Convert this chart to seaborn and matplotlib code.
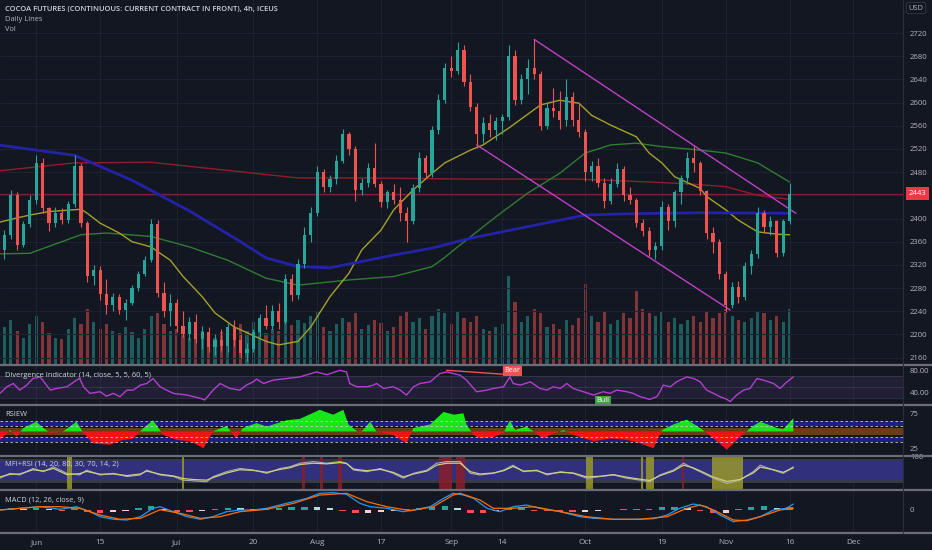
import numpy as np
import matplotlib
matplotlib.use("Agg")
import matplotlib.pyplot as plt
import seaborn as sns
from matplotlib.lines import Line2D

# ---------------- data (one bar per trading day) ----------------
opens = [2380, 2345, 2372, 2440, 2355, 2390, 2432, 2495, 2418, 2392,
         2410, 2398, 2425, 2490, 2392, 2300, 2312, 2270, 2250, 2265,
         2242, 2255, 2280, 2305, 2328, 2390, 2272, 2240, 2255, 2215,
         2200, 2222, 2192, 2205, 2178, 2190, 2180, 2212, 2190, 2168,
         2175, 2205, 2228, 2215, 2240, 2222, 2295, 2268, 2322, 2372,
         2410, 2480, 2455, 2468, 2500, 2545, 2520, 2450, 2462, 2488,
         2460, 2428, 2445, 2432, 2410, 2395, 2452, 2505, 2478, 2552,
         2605, 2660, 2655, 2690, 2635, 2592, 2545, 2565, 2552, 2568,
         2575, 2680, 2605, 2640, 2660, 2650, 2560, 2590, 2585, 2570,
         2610, 2570, 2550, 2480, 2490, 2462, 2430, 2460, 2485, 2440,
         2432, 2392, 2378, 2345, 2352, 2420, 2395, 2445, 2470, 2505,
         2495, 2448, 2375, 2360, 2305, 2250, 2282, 2265, 2318, 2338,
         2410, 2385, 2395, 2340, 2395]
highs = [2395, 2380, 2450, 2445, 2395, 2440, 2510, 2505, 2420, 2420,
         2418, 2430, 2510, 2495, 2395, 2320, 2318, 2295, 2272, 2270,
         2262, 2285, 2310, 2335, 2400, 2398, 2290, 2270, 2262, 2240,
         2230, 2235, 2215, 2212, 2200, 2210, 2220, 2225, 2200, 2185,
         2210, 2235, 2250, 2250, 2255, 2305, 2305, 2330, 2385, 2420,
         2490, 2485, 2475, 2510, 2555, 2550, 2525, 2470, 2495, 2530,
         2465, 2450, 2460, 2455, 2420, 2460, 2515, 2510, 2560, 2615,
         2668, 2680, 2705, 2700, 2650, 2600, 2575, 2580, 2575, 2580,
         2700, 2690, 2650, 2675, 2710, 2655, 2600, 2625, 2620, 2640,
         2618, 2600, 2555, 2500, 2505, 2470, 2470, 2495, 2490, 2455,
         2435, 2400, 2385, 2360, 2430, 2425, 2450, 2475, 2515, 2525,
         2500, 2450, 2385, 2365, 2310, 2290, 2292, 2325, 2345, 2420,
         2415, 2405, 2398, 2400, 2462]
lows = [2335, 2330, 2365, 2345, 2350, 2385, 2425, 2410, 2378, 2385,
        2390, 2392, 2420, 2385, 2290, 2285, 2260, 2235, 2240, 2235,
        2225, 2250, 2275, 2300, 2325, 2265, 2230, 2215, 2205, 2195,
        2190, 2185, 2175, 2170, 2165, 2172, 2170, 2180, 2160, 2155,
        2170, 2195, 2210, 2210, 2210, 2218, 2258, 2262, 2315, 2360,
        2405, 2445, 2445, 2460, 2495, 2510, 2430, 2440, 2455, 2455,
        2420, 2418, 2425, 2395, 2360, 2390, 2445, 2470, 2472, 2545,
        2600, 2645, 2650, 2628, 2585, 2522, 2530, 2540, 2535, 2545,
        2570, 2595, 2598, 2615, 2640, 2552, 2555, 2575, 2555, 2560,
        2560, 2540, 2465, 2465, 2455, 2418, 2425, 2455, 2430, 2425,
        2385, 2370, 2335, 2330, 2345, 2380, 2385, 2425, 2460, 2480,
        2440, 2365, 2340, 2295, 2238, 2245, 2255, 2260, 2305, 2332,
        2375, 2372, 2333, 2335, 2390]
closes = [2345, 2372, 2440, 2355, 2390, 2432, 2495, 2418, 2392, 2410,
          2398, 2425, 2490, 2392, 2300, 2312, 2270, 2250, 2265, 2242,
          2255, 2280, 2305, 2328, 2390, 2272, 2240, 2255, 2215, 2200,
          2222, 2192, 2205, 2178, 2190, 2180, 2212, 2190, 2168, 2175,
          2205, 2228, 2215, 2240, 2222, 2295, 2268, 2322, 2372, 2410,
          2480, 2455, 2468, 2500, 2545, 2520, 2450, 2462, 2488, 2460,
          2428, 2445, 2432, 2410, 2395, 2452, 2505, 2478, 2552, 2605,
          2660, 2655, 2690, 2635, 2592, 2545, 2565, 2552, 2568, 2575,
          2680, 2605, 2640, 2660, 2650, 2560, 2590, 2585, 2570, 2610,
          2570, 2550, 2480, 2490, 2462, 2430, 2460, 2485, 2440, 2432,
          2392, 2378, 2345, 2352, 2420, 2395, 2445, 2470, 2505, 2495,
          2448, 2375, 2360, 2305, 2250, 2282, 2265, 2318, 2338, 2410,
          2385, 2395, 2340, 2395, 2443]
volumes = [35, 42, 50, 38, 30, 45, 55, 48, 35, 30,
           28, 40, 52, 45, 62, 48, 40, 45, 38, 35,
           42, 36, 30, 40, 55, 58, 45, 38, 40, 35,
           30, 42, 38, 33, 30, 36, 40, 34, 45, 38,
           48, 42, 35, 40, 38, 52, 44, 50, 46, 55,
           60, 42, 38, 45, 52, 48, 58, 40, 44, 50,
           46, 38, 42, 55, 60, 48, 52, 40, 55, 62,
           58, 45, 60, 52, 48, 55, 40, 38, 42, 45,
           100, 70, 48, 55, 62, 58, 42, 45, 40, 50,
           44, 52, 91, 55, 48, 60, 45, 50, 58, 52,
           83, 62, 58, 55, 60, 48, 52, 45, 50, 55,
           48, 60, 52, 58, 62, 55, 50, 48, 52, 60,
           58, 50, 55, 48, 62]
last_price = 2443

# moving averages ("Daily Lines")
blue_days = [0, 12, 21, 30, 38, 42, 47, 52, 57, 62, 68, 74, 83, 92, 98, 110, 124]
blue_vals = [2527, 2509, 2466, 2413, 2360, 2332, 2317, 2315, 2326, 2337, 2349, 2366,
             2386, 2406, 2408, 2410, 2409]
red_days = [0, 12, 24, 36, 47, 57, 74, 91, 102, 108, 114, 119, 124]
red_vals = [2482, 2496, 2497, 2483, 2470, 2470, 2468, 2468, 2463, 2460, 2455, 2440, 2433]
green_days = [0, 5, 13, 17, 24, 30, 36, 42, 47, 55, 62, 68, 70, 72, 78, 83, 88, 92, 96,
              100, 104, 110, 114, 119, 124]
green_vals = [2339, 2340, 2372, 2375, 2369, 2351, 2328, 2297, 2285, 2294, 2300, 2317, 2333,
              2351, 2403, 2444, 2478, 2513, 2527, 2530, 2524, 2518, 2513, 2496, 2463]
yellow_days = [0, 3, 5, 8, 13, 14, 16, 19, 21, 24, 25, 27, 29, 32, 34, 37, 39, 42, 44, 47,
               49, 52, 55, 57, 60, 62, 65, 68, 70, 74, 76, 80, 85, 88, 91, 93, 96, 100,
               102, 104, 106, 110, 111, 114, 116, 119, 122, 124]
yellow_vals = [2393, 2401, 2406, 2412, 2416, 2409, 2392, 2375, 2360, 2351, 2343, 2328, 2300,
               2265, 2237, 2213, 2203, 2188, 2182, 2188, 2213, 2265, 2306, 2346, 2380, 2415,
               2449, 2478, 2496, 2518, 2527, 2556, 2596, 2604, 2599, 2578, 2561, 2541, 2513,
               2496, 2472, 2452, 2438, 2415, 2397, 2377, 2373, 2372]

# falling channel
chan_up_days = [84, 125]
chan_up_vals = [2709, 2409]
chan_lo_days = [75, 114.7]
chan_lo_vals = [2527, 2242]

# Divergence Indicator (RSI)
div_days = [0.3, 1.4, 2.4, 3.4, 4.5, 5.5, 6.6, 7.6, 8.2, 9.2,
            10.8, 12.3, 12.8, 13.4, 14.4, 16, 17, 18.1, 19.1, 20.2,
            21.2, 22.3, 23.3, 24.3, 25.4, 26.4, 27.5, 29.6, 31.7, 32.4,
            33.7, 34.8, 36.3, 37.9, 38.9, 40, 40.5, 41.6, 43.1, 45.2,
            47.3, 49.9, 51.5, 53.6, 54.6, 55.1, 56.2, 57.8, 58.8, 59.3,
            60.4, 61.9, 63, 64, 65.1, 66.1, 67.7, 69.2, 70.3, 72.4,
            73.4, 74.5, 75, 76.6, 77.6, 79.2, 80.2, 80.7, 81.8, 83.4,
            84.9, 86, 87, 88.1, 89.1, 90.1, 91.7, 93.3, 94.8, 95.9,
            96.9, 98.5, 99.5, 100.6, 102.1, 103.2, 103.7, 104.2, 105.3, 106.3,
            107.9, 109, 110, 111, 112.1, 113.1, 114.2, 114.7, 115.7, 116.8,
            117.8, 118.9, 119.9, 121.5, 122.5, 123.6, 124.6]
div_vals = [38, 50, 56, 44, 53, 65, 68, 53, 44, 47,
            50, 62, 65, 50, 38, 41, 33, 38, 32, 44,
            44, 53, 56, 65, 50, 44, 38, 35, 29, 26,
            44, 56, 47, 44, 53, 59, 64, 56, 62, 65,
            68, 77, 72, 80, 77, 56, 50, 50, 53, 56,
            47, 50, 44, 35, 50, 56, 59, 74, 77, 71,
            62, 47, 41, 44, 47, 50, 68, 56, 53, 59,
            47, 44, 50, 47, 56, 47, 41, 35, 41, 38,
            44, 41, 38, 32, 27, 32, 41, 53, 50, 59,
            68, 65, 59, 44, 38, 32, 27, 23, 35, 44,
            47, 65, 62, 56, 47, 59, 68]
bear_line_days = [70.3, 80.2]
bear_line_vals = [80, 72]
bear_pos = (80.6, 80)
bull_pos = (94.8, 24.5)

# RSIEW
rsiew_days = [0.3, 1.9, 2.9, 4, 6, 7.1, 8.2, 10.2, 12.3, 13.4,
              14.9, 17.5, 19.6, 21.2, 22.8, 24.3, 25.9, 28, 30.1, 32.2,
              33.7, 35.8, 37.3, 38.4, 40.5, 42.1, 45.2, 47.3, 50.4, 52.5,
              54.1, 54.9, 56.7, 58.3, 59.3, 61.9, 64, 65.1, 67.7, 69.8,
              71.4, 72.9, 73.4, 74.5, 75.5, 77.6, 79.2, 80.2, 81, 82.8,
              83.9, 85.4, 87, 88.6, 90.1, 93.3, 95.9, 98.5, 100.6, 102.7,
              104, 105.8, 107.9, 110, 112.1, 114.2, 116.2, 118.3, 119.4, 122,
              123, 124.6]
rsiew_vals = [38, 52, 43, 55, 64, 55, 48, 50, 64, 48,
              33, 31, 38, 40, 55, 66, 45, 38, 36, 26,
              50, 58, 40, 55, 62, 57, 66, 68, 81, 74,
              81, 60, 47, 64, 50, 45, 33, 55, 60, 78,
              74, 76, 60, 45, 40, 42, 48, 66, 52, 57,
              50, 40, 47, 52, 45, 36, 40, 38, 33, 26,
              52, 60, 67, 55, 40, 24, 42, 58, 64, 55,
              53, 69]

# MFI + RSI
mfi_days = [0.3, 1.9, 3.4, 5.5, 7.1, 8.7, 10.8, 12.8, 13.9, 16,
            18.1, 20.2, 22.3, 23.3, 25.4, 27.5, 29, 30.6, 32.7, 33.7,
            35.8, 37.9, 40, 42.1, 44.2, 45.7, 47.3, 49.4, 51.5, 53.6,
            54.6, 55.7, 57.8, 59.9, 61.9, 63.5, 65.1, 67.2, 68.7, 70.3,
            72.4, 74, 75.5, 77.6, 79.2, 80.7, 82.3, 84.4, 86, 88.1,
            90.1, 92.2, 94.3, 96.4, 98.5, 100.6, 102.1, 103.7, 105.8, 107.4,
            108.9, 110.5, 112.1, 114.2, 116.2, 118.3, 119.4, 121.5, 123, 124.6]
mfi_vals = [34, 49, 44, 64, 54, 69, 49, 44, 59, 44,
            49, 39, 44, 59, 44, 39, 28, 26, 23, 39,
            54, 64, 59, 49, 64, 69, 80, 85, 80, 85,
            80, 59, 54, 64, 49, 34, 49, 59, 80, 85,
            85, 49, 44, 49, 59, 74, 54, 59, 44, 54,
            49, 34, 39, 44, 34, 28, 23, 44, 59, 80,
            64, 49, 34, 18, 28, 54, 74, 59, 49, 69]
rsi_vals = [38, 46, 47, 60, 56, 64, 45, 48, 55, 46,
            47, 42, 47, 56, 46, 41, 33, 30, 28, 36,
            50, 60, 58, 52, 61, 66, 76, 80, 78, 82,
            79, 62, 57, 61, 52, 38, 47, 56, 74, 80,
            80, 54, 47, 50, 57, 70, 56, 57, 47, 52,
            50, 38, 40, 45, 37, 31, 27, 42, 56, 74,
            66, 52, 37, 24, 30, 50, 68, 60, 52, 66]
oversold_start = [10.8, 28.8, 92.1, 100.7, 101.5, 111.9]
oversold_end = [11.6, 29.2, 93.2, 101.1, 102.8, 116.7]
overbought_start = [47.6, 50.5, 53.2, 69.1, 71.7, 107.2]
overbought_end = [48.1, 50.9, 53.9, 71.1, 73.2, 107.45]

# MACD
macd_days = [0.3, 3.4, 6.6, 9.7, 12.3, 14.4, 16, 18.1, 20.2, 22.3,
             24.3, 25.4, 27.5, 29.6, 31.7, 33.7, 35.8, 37.9, 40, 42.1,
             45.2, 48.4, 50.4, 52.5, 54.6, 56.7, 58.3, 60.9, 63.5, 65.1,
             67.7, 69.8, 71.3, 72.9, 74.5, 76.6, 78.6, 80.7, 82.8, 84.9,
             88.1, 91.2, 93.3, 96.4, 99.5, 102.7, 104.8, 106.8, 108.9, 111,
             113.1, 115.2, 117.3, 119.4, 121.5, 123.5, 124.6]
macd_vals = [-0.3, 1.4, 3, 0.4, 3, -2, -7, -9.6, -10.3, -7,
             1.4, 3, -2, -7, -9.6, -7, -2, -0.3, -0.3, 1.4,
             6.4, 11.4, 16.4, 17, 15.4, 6.4, 3, 1.4, -2, -0.3,
             3, 11.4, 16.4, 14.7, 11.4, 1.4, -2, 3, 4.7, 1.4,
             -2, -7, -8.6, -9.6, -9.6, -9, -5.3, 1.4, 5.7, 3,
             -5.3, -12, -10.3, -7, -0.3, 1.4, 5.7]
signal_days = [0.3, 6.6, 9.7, 12.8, 16, 19.1, 22.3, 25.4, 28.5, 31.7,
               34.8, 37.9, 42.1, 46.3, 50.4, 54.6, 57.8, 60.9, 64.6, 68.2,
               71.3, 72.4, 75.5, 77.6, 80.7, 83.9, 88.1, 92.2, 96.4, 100.6,
               104.8, 107.9, 110, 112.1, 115.2, 117.3, 119.4, 122.5, 124.6]
signal_vals = [-0.3, 3, 3, 1.4, -5.3, -9.6, -8.6, 0, -3.6, -8.6,
               -7, -2, 0.4, 6.4, 14.7, 16.4, 8, 3, -1, 3,
               14.7, 16.4, 9.7, 1.4, 1.4, 3, -2, -7, -9.6, -9.6,
               -7, 1.4, 4.7, -0.3, -10.3, -11, -7, -0.3, 1.4]
hist_days = list(range(0, 125, 2))
hist_vals = [1, 1.5, 1, 2, 1, -1, 1.5, -2.5, -3, -2,
             -1, 1.5, 3.5, 1, -2, -2.5, -1.5, 1, 2, 1.5,
             0.5, 1, 2, 2.5, 3, 2.5, 1.5, -1, -3.5, -3,
             -2, -1.5, 0.5, 1.5, 3, 4, 2, -3, -3.5, -1,
             2, 2.5, -1, -1.5, -2, -2.5, -2, -1, -0.5, 0.5,
             0.5, 1, 2.5, 3, 2, -1.5, -3.5, -3, 1, 3,
             3.5, 2, 2.5]

# time axis
tick_days = [6, 16, 28, 40, 50, 60, 71, 79, 92, 104, 114, 124, 134]
tick_labels = ["Jun", "15", "Jul", "20", "Aug", "17", "Sep", "14", "Oct", "19", "Nov", "16", "Dec"]

# ---------------- style ----------------
bg = "#131722"
txt = "#b2b5be"
grid_c = "#1d2130"
up_c, dn_c = "#26a69a", "#ef5350"

sns.set_theme(style="dark", rc={"axes.facecolor": bg, "figure.facecolor": bg,
                                "axes.edgecolor": bg, "text.color": txt,
                                "xtick.color": txt, "ytick.color": txt})
plt.rcParams["font.family"] = ["Open Sans", "DejaVu Sans"]

W, H = 932, 550
fig = plt.figure(figsize=(W / 100, H / 100), dpi=100)
XLIM = (0.32, 141.77)
LBL = 5.4


def rect(top, bottom):
    return [0, 1 - bottom / H, 903 / W, (bottom - top) / H]


def style(ax, ylim, yticks, ylabels):
    ax.set_xlim(*XLIM)
    ax.set_ylim(*ylim)
    ax.set_xticks(tick_days)
    ax.set_xticklabels([])
    ax.grid(True, axis="x", color=grid_c, lw=0.8)
    ax.yaxis.tick_right()
    ax.set_yticks(yticks)
    ax.set_yticklabels(ylabels, fontsize=5.6, color=txt)
    ax.tick_params(length=0, pad=5)
    ax.set_xlabel("")
    ax.set_ylabel("")
    for s in ax.spines.values():
        s.set_visible(False)


def px_text(x, y, s, **kw):
    fig.text(x / W, 1 - y / H, s, va="center", ha="left", **kw)


x = np.arange(len(closes))
o, h, l, c = map(np.array, (opens, highs, lows, closes))
cols = np.where(c >= o, up_c, dn_c)

# ---- main panel: volume underneath, candles on top ----
main_rect = rect(0, 364)
axv = fig.add_axes(main_rect)
axv.bar(x, volumes, width=0.5, color=cols, alpha=0.5, linewidth=0)
axv.set_xlim(*XLIM)
axv.set_ylim(0, 413)
axv.axis("off")

ax = fig.add_axes(main_rect)
ax.patch.set_visible(False)
price_ticks = list(range(2160, 2721, 40))
# the 2440 label is covered by the last-price tag in the original
price_labels = ["" if p == 2440 else str(p) for p in price_ticks]
style(ax, (2149, 2777), price_ticks, price_labels)
ax.grid(True, axis="y", color=grid_c, lw=0.8)
ax.axhline(last_price, color="#7a2432", lw=0.9)

sns.lineplot(x=red_days, y=red_vals, ax=ax, color="#8e1f2a", lw=1.0)
sns.lineplot(x=green_days, y=green_vals, ax=ax, color="#2e7d32", lw=1.0)
sns.lineplot(x=yellow_days, y=yellow_vals, ax=ax, color="#a3a12a", lw=1.0)
sns.lineplot(x=blue_days, y=blue_vals, ax=ax, color="#2323a8", lw=2.0)
sns.lineplot(x=chan_up_days, y=chan_up_vals, ax=ax, color="#c13fc8", lw=1.0)
sns.lineplot(x=chan_lo_days, y=chan_lo_vals, ax=ax, color="#c13fc8", lw=1.0)

ax.vlines(x, l, h, colors=cols, lw=0.8, zorder=3)
ax.bar(x, np.maximum(np.abs(c - o), 1.5), bottom=np.minimum(o, c), width=0.5,
       color=cols, linewidth=0, zorder=4)
ax.set_xlabel("")
ax.set_ylabel("")

ax.annotate(str(last_price), xy=(1.0, last_price), xycoords=("axes fraction", "data"),
            xytext=(4, 0), textcoords="offset points", va="center", ha="left",
            fontsize=5.6, color="white",
            bbox=dict(boxstyle="square,pad=0.35", fc="#f23645", ec="none"))
fig.text(916 / W, 1 - 8 / H, "USD", fontsize=5.4, color=txt, ha="center", va="center",
         bbox=dict(boxstyle="round,pad=0.3", fc=bg, ec="#363a45", lw=0.6))

# ---- divergence indicator ----
axd = fig.add_axes(rect(366, 404))
axd.axhspan(30, 70, color="#7e57c2", alpha=0.13, lw=0)
for lvl in (70, 50, 30):
    axd.axhline(lvl, color="#787b86", lw=0.5, alpha=0.35)
sns.lineplot(x=div_days, y=div_vals, ax=axd, color="#b23fcf", lw=1.0)
sns.lineplot(x=bear_line_days, y=bear_line_vals, ax=axd, color="#ef5350", lw=1.0)
style(axd, (18.7, 87.8), [80, 40], ["80.00", "40.00"])
axd.text(*bear_pos, "Bear", fontsize=5.2, color="white", ha="center", va="center",
         bbox=dict(boxstyle="square,pad=0.25", fc="#ef5350", ec="none"))
axd.text(*bull_pos, "Bull", fontsize=5.2, color="white", ha="center", va="center",
         bbox=dict(boxstyle="square,pad=0.25", fc="#43a047", ec="none"))

# ---- RSIEW ----
axr = fig.add_axes(rect(406.7, 454.3))
axr.axhspan(57.5, 65, color="#1e1e8a", lw=0)
axr.axhspan(35, 42.5, color="#1e1e8a", lw=0)
axr.axhspan(45, 55, color="#6b3d16", lw=0)
rd, rv = np.array(rsiew_days), np.array(rsiew_vals)
axr.fill_between(rd, rv, 50, where=rv >= 50, interpolate=True, color="#19e619", lw=0)
axr.fill_between(rd, rv, 50, where=rv < 50, interpolate=True, color="#f01414", lw=0)
for lvl in (65, 58, 42, 35):
    axr.axhline(lvl, color="#c8c8d0", lw=0.6, ls=(0, (3, 3)))
style(axr, (17.4, 85.4), [75, 25], ["75", "25"])

# ---- MFI + RSI ----
axm = fig.add_axes(rect(456.7, 489.3))
axm.axhspan(18, 92, color="#363a46", lw=0)
axm.axhspan(30, 86, color="#30307c", lw=0)
for s, e in zip(oversold_start, oversold_end):
    axm.axvspan(s, e, color="#9a982a", alpha=0.85, lw=0)
for s, e in zip(overbought_start, overbought_end):
    axm.axvspan(s, e, color="#8a1e2a", alpha=0.85, lw=0)
sns.lineplot(x=mfi_days, y=mfi_vals, ax=axm, color="#a9abb3", lw=0.8)
sns.lineplot(x=mfi_days, y=rsi_vals, ax=axm, color="#cfcf7a", lw=0.9)
style(axm, (0, 100), [100], ["100"])

# ---- MACD ----
axc = fig.add_axes(rect(491, 533.3))
hv = np.array(hist_vals)
prev = np.concatenate([[0], hv[:-1]])
hcols = np.where(hv >= 0, np.where(hv >= prev, "#26a69a", "#b2dfdb"),
                 np.where(hv < prev, "#ef5350", "#ffcdd2"))
axc.bar(hist_days, hv, width=1.0, color=hcols, linewidth=0)
sns.lineplot(x=macd_days, y=macd_vals, ax=axc, color="#2196f3", lw=0.9)
sns.lineplot(x=signal_days, y=signal_vals, ax=axc, color="#ff6d00", lw=0.9)
style(axc, (-23.6, 18.7), [0], ["0"])
axc.set_xticklabels(tick_labels, fontsize=5.9, color=txt)
axc.tick_params(axis="x", pad=4)

# ---- panel titles ----
px_text(5, 9.3, "COCOA FUTURES (CONTINUOUS: CURRENT CONTRACT IN FRONT), 4h, ICEUS",
        fontsize=LBL, color="#d1d4dc", fontweight="semibold")
px_text(5, 19.3, "Daily Lines", fontsize=LBL, color="#b2b5be")
px_text(5, 29.2, "Vol", fontsize=LBL, color="#b2b5be")
px_text(5, 375.7, "Divergence Indicator (14, close, 5, 5, 60, 5)", fontsize=LBL, color="#d1d4dc")
px_text(5, 414.3, "RSIEW", fontsize=LBL, color="#d1d4dc")
px_text(5, 464.3, "MFI+RSI (14, 20, 80, 30, 70, 14, 2)", fontsize=LBL, color="#d1d4dc")
px_text(5, 500, "MACD (12, 26, close, 9)", fontsize=LBL, color="#d1d4dc")

# ---- separators ----
for yy in (365, 405.3, 455.5, 490.2, 533.3):
    fig.add_artist(Line2D([0, 1], [1 - yy / H] * 2, color="#6b6e78", lw=1.6))
fig.add_artist(Line2D([903 / W] * 2, [1 - 533.3 / H, 1], color="#2a2e39", lw=0.8))

fig.savefig("out.png", dpi=100, facecolor=bg)
